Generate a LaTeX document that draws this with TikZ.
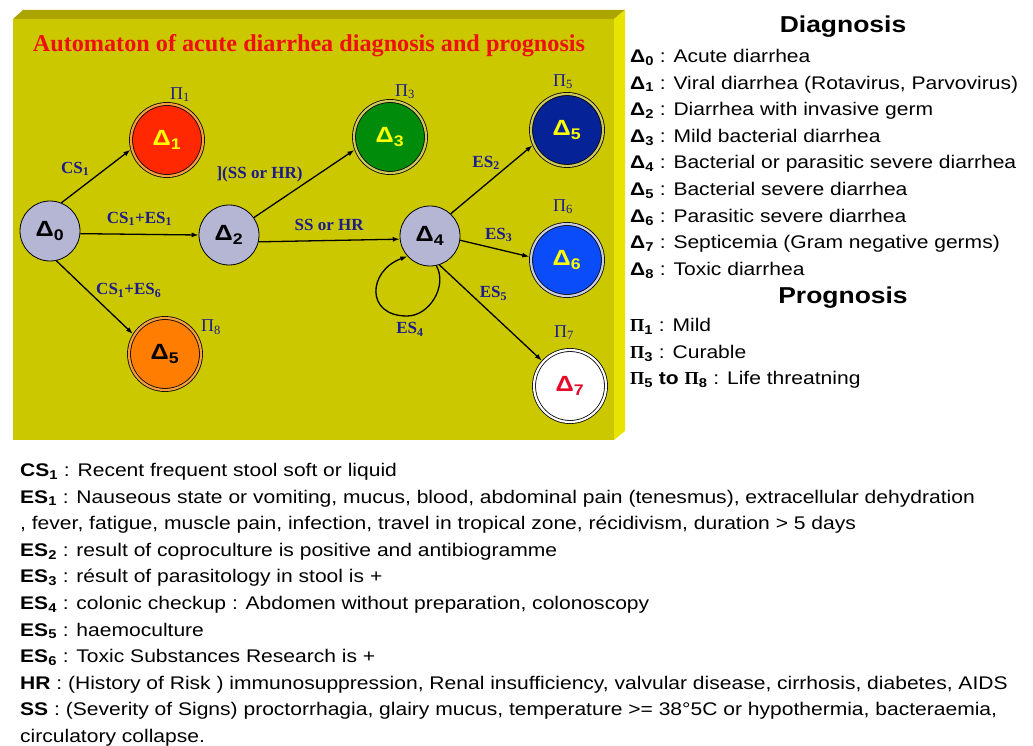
\documentclass[tikz,border=0pt]{standalone}
\usepackage{fontspec}
\setmainfont{Liberation Sans}[FakeStretch=1.15]
\newfontfamily\serifbold{Liberation Serif}[FakeStretch=1.0]
\newcommand{\sub}[1]{\textsubscript{#1}}
\definecolor{panelfront}{RGB}{204,200,0}
\definecolor{paneltop}{RGB}{172,165,0}
\definecolor{panelside}{RGB}{232,228,0}
\definecolor{stategray}{RGB}{180,182,212}
\definecolor{labelblue}{RGB}{28,28,140}
\definecolor{titlered}{RGB}{238,16,16}
\definecolor{redfill}{RGB}{255,40,0}
\definecolor{greenfill}{RGB}{0,140,10}
\definecolor{darkbluefill}{RGB}{5,35,150}
\definecolor{bluefill}{RGB}{10,75,250}
\definecolor{orangefill}{RGB}{255,125,0}
\definecolor{ringorange}{RGB}{245,160,60}
\definecolor{ringolive}{RGB}{205,200,90}
\definecolor{ringpale}{RGB}{200,205,225}
\definecolor{deltayellow}{RGB}{255,255,0}
\definecolor{deltared}{RGB}{228,10,40}
\usetikzlibrary{positioning}
\usetikzlibrary{arrows.meta}
\tikzset{
state_node/.style={circle, draw, line width=0.8pt, fill=stategray, minimum size=60pt, inner sep=0pt, font=\fontsize{22}{22}\selectfont\bfseries},
final_node/.style={circle, draw, line width=0.8pt, double distance=2.2pt, minimum size=72pt, inner sep=0pt, outer sep=1.9pt, font=\fontsize{22}{22}\selectfont\bfseries},
trans/.style={-{Latex[length=7pt,width=5pt]}, line width=1.3pt},
cond_label/.style={text=labelblue, font=\serifbold\fontsize{17}{17}\selectfont\bfseries, inner sep=1pt},
prog_label/.style={text=labelblue, font=\serifbold\fontsize{18}{18}\selectfont, inner sep=0pt},
title_text/.style={text=titlered, font=\serifbold\fontsize{24.2}{24.2}\selectfont\bfseries, inner sep=0pt},
heading_text/.style={font=\fontsize{23}{23}\selectfont\bfseries, inner sep=0pt},
legend_text/.style={align=left, anchor=north west, inner sep=0pt, font=\fontsize{18.3}{26.6}\selectfont}
}
\begin{document}
\begin{tikzpicture}[x=1pt, y=-1pt]
    \useasboundingbox (0,0) rectangle (1033,746);
    % the yellow board
    \fill[paneltop] (13,19) -- (23,10) -- (625,10) -- (614,19) -- cycle;
    \fill[panelside] (614,19) -- (625,10) -- (625,431) -- (614,440) -- cycle;
    \fill[panelfront] (13,19) rectangle (614,440);
    \node[title_text] (title) at (309,46) {Automaton of acute diarrhea diagnosis and prognosis};

    % states
    \node[state_node] (d0) at (50,231) {Δ\sub{0}};
    \node[state_node] (d2) at (229,235) {Δ\sub{2}};
    \node[state_node] (d4) at (430,236) {Δ\sub{4}};
    \node[final_node, fill=redfill, double=ringorange, text=deltayellow] (d1) at (167,140) {Δ\sub{1}};
    \node[final_node, fill=greenfill, double=ringolive, text=deltayellow] (d3) at (390,137) {Δ\sub{3}};
    \node[final_node, fill=darkbluefill, double=ringolive, text=deltayellow] (d5) at (567,130) {Δ\sub{5}};
    \node[final_node, fill=bluefill, double=ringpale, text=deltayellow] (d6) at (567,260) {Δ\sub{6}};
    \node[final_node, fill=white, double=white, text=deltared] (d7) at (570,386) {Δ\sub{7}};
    \node[final_node, fill=orangefill, double=ringorange, text=black] (d8) at (165,354) {Δ\sub{5}};
    \coordinate (loopbottom) at (407,316);

    % prognosis marks
    \node[prog_label] (p1) [above=0pt of d1, xshift=13pt] {Π\sub{1}};
    \node[prog_label] (p3) [above=0pt of d3, xshift=15pt] {Π\sub{3}};
    \node[prog_label] (p5) [above=3pt of d5, xshift=-4pt] {Π\sub{5}};
    \node[prog_label] (p6) [above=8pt of d6, xshift=-4pt] {Π\sub{6}};
    \node[prog_label] (p7) [above=8pt of d7, xshift=-6pt] {Π\sub{7}};
    \node[prog_label, anchor=west] (p8) at ([xshift=9pt]d8.north east) {Π\sub{8}};

    % transitions
    \draw[trans] (d0.68) -- (d1.195) node[cond_label, pos=0.45, above left=2pt] (l01) {CS\sub{1}};
    \draw[trans] (d0.-5) -- (d2.west) node[cond_label, midway, above=7pt] (l02) {CS\sub{1}+ES\sub{1}};
    \draw[trans] (d0.-78) -- (d8.148) node[cond_label, midway, above right=-2pt and 0pt] (l08) {CS\sub{1}+ES\sub{6}};
    \draw[trans] (d2.35) -- (d3.200) node[cond_label, midway, above left] (l23) {](SS or HR)};
    \draw[trans] (d2.-13) -- (d4.186) node[cond_label, midway, above=8pt] (l24) {SS or HR};
    \draw[trans] (d4.47) -- (d5.204) node[cond_label, pos=0.62, above left] (l45) {ES\sub{2}};
    \draw[trans] (d4.-8) -- (d6.175) node[cond_label, midway, above=5pt, xshift=4pt] (l46) {ES\sub{3}};
    \draw[trans] (d4.-72) -- (d7.138) node[cond_label, pos=0.3, right=8pt] (l47) {ES\sub{5}};
    \draw[trans] (d4.-78) to[out=-60, in=0] (loopbottom) to[out=180, in=200, looseness=1.8] (d4.222);
    \node[cond_label] (l44) [below=5pt of loopbottom, xshift=3pt] {ES\sub{4}};

    % legend
    \node[heading_text] (diag) at (843,27) {Diagnosis};
    \node[legend_text] (diaglist) at (630,49) {%
      \textbf{Δ\sub{0}} : Acute diarrhea\\
      \textbf{Δ\sub{1}} : Viral diarrhea (Rotavirus, Parvovirus)\\
      \textbf{Δ\sub{2}} : Diarrhea with invasive germ\\
      \textbf{Δ\sub{3}} : Mild bacterial diarrhea\\
      \textbf{Δ\sub{4}} : Bacterial or parasitic severe diarrhea\\
      \textbf{Δ\sub{5}} : Bacterial severe diarrhea\\
      \textbf{Δ\sub{6}} : Parasitic severe diarrhea\\
      \textbf{Δ\sub{7}} : Septicemia (Gram negative germs)\\
      \textbf{Δ\sub{8}} : Toxic diarrhea};
    \node[heading_text] (prog) at (843,298) {Prognosis};
    \node[legend_text] (proglist) at (630,318) {%
      \textbf{{\serifbold Π}\sub{1}} : Mild\\
      \textbf{{\serifbold Π}\sub{3}} : Curable\\
      \textbf{{\serifbold Π}\sub{5} to {\serifbold Π}\sub{8}} : Life threatning};
    \node[legend_text] (signs) at (20,463) {%
      \textbf{CS\sub{1}} : Recent frequent stool soft or liquid\\
      \textbf{ES\sub{1}} : Nauseous state or vomiting, mucus, blood, abdominal pain (tenesmus), extracellular dehydration\\
      , fever, fatigue, muscle pain, infection, travel in tropical zone, récidivism, duration > 5 days\\
      \textbf{ES\sub{2}} : result of coproculture is positive and antibiogramme\\
      \textbf{ES\sub{3}} : résult of parasitology in stool is +\\
      \textbf{ES\sub{4}} : colonic checkup : Abdomen without preparation, colonoscopy\\
      \textbf{ES\sub{5}} : haemoculture\\
      \textbf{ES\sub{6}} : Toxic Substances Research is +\\
      \textbf{HR} : (History of Risk ) immunosuppression, Renal insufficiency, valvular disease, cirrhosis, diabetes, AIDS\\
      \textbf{SS} : (Severity of Signs) proctorrhagia, glairy mucus, temperature >= 38°5C or hypothermia, bacteraemia,\\
      circulatory collapse.};
\end{tikzpicture}
\end{document}
